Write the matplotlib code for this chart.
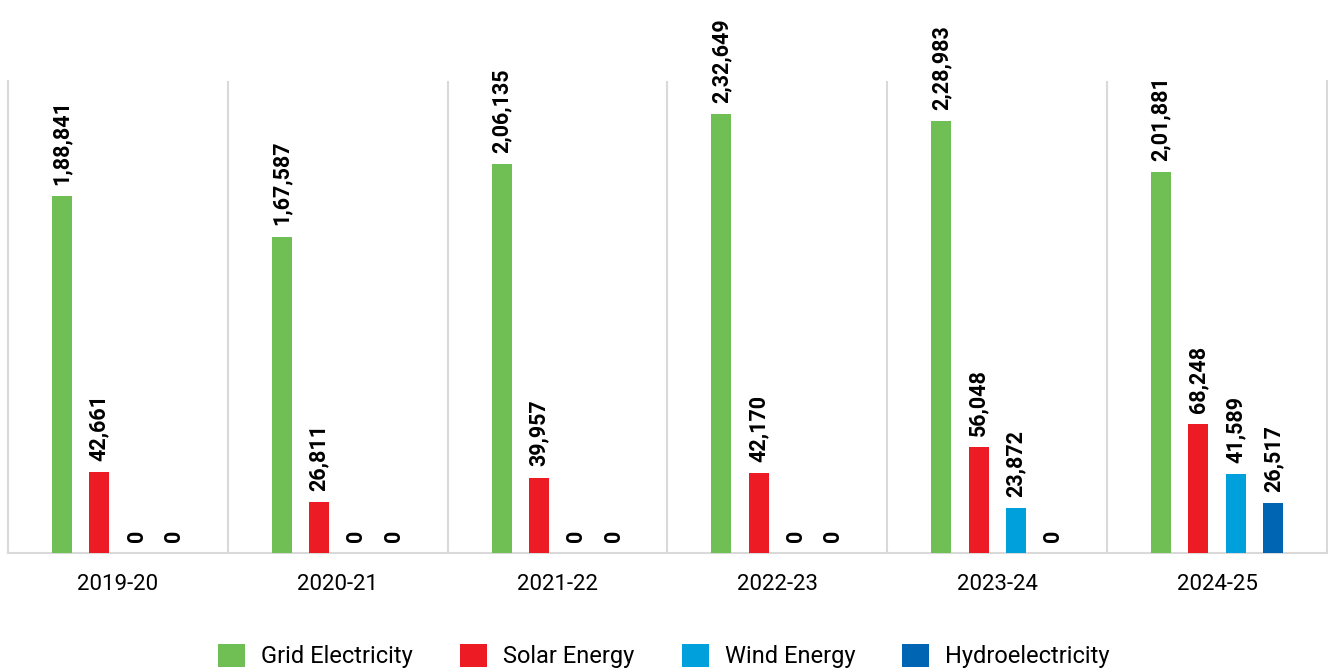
import matplotlib
matplotlib.use("Agg")
import matplotlib.pyplot as plt
import numpy as np

years = ["2019-20", "2020-21", "2021-22", "2022-23", "2023-24", "2024-25"]
series_names = ["Grid Electricity", "Solar Energy", "Wind Energy", "Hydroelectricity"]
grid = [188841, 167587, 206135, 232649, 228983, 201881]
solar = [42661, 26811, 39957, 42170, 56048, 68248]
wind = [0, 0, 0, 0, 23872, 41589]
hydro = [0, 0, 0, 0, 0, 26517]
colors = ["#70BF54", "#ED1C24", "#00A0DC", "#0066B3"]

def fmt_indian(v):
    s = str(int(v))
    if len(s) <= 3:
        return s
    last3 = s[-3:]
    rest = s[:-3]
    parts = []
    while len(rest) > 2:
        parts.insert(0, rest[-2:])
        rest = rest[:-2]
    if rest:
        parts.insert(0, rest)
    return ",".join(parts) + "," + last3

plt.rcParams['font.family'] = ['Roboto', 'DejaVu Sans']

fig = plt.figure(figsize=(13.28, 6.68), dpi=100)
ax = fig.add_axes([8/1328, (668-553)/668, 1319/1328, (553-81)/668])

x = np.arange(len(years))
width = 0.091
step = 0.17
offsets = (np.arange(4) - 1.5) * step
data = [grid, solar, wind, hydro]
for i, (vals, c, name) in enumerate(zip(data, colors, series_names)):
    bars = ax.bar(x + offsets[i], vals, width, color=c, label=name, zorder=3)
    ax.bar_label(bars, labels=[fmt_indian(v) for v in vals], rotation=90,
                 padding=8, fontsize=15.5, fontweight='bold', color='black',
                 clip_on=False)

ax.set_xlim(-0.5, len(years) - 0.5)
ax.set_ylim(0, 250000)
ax.set_xticks(x)
ax.set_xticklabels(years, fontsize=16)
ax.set_xticks(np.arange(0.5, len(years) - 0.5, 1), minor=True)
ax.tick_params(axis='x', which='both', length=0, pad=15)
ax.set_yticks([])
ax.grid(which='minor', axis='x', color='#D9D9D9', linewidth=1.5)
for s in ['left', 'bottom', 'right']:
    ax.spines[s].set_color('#D9D9D9')
    ax.spines[s].set_linewidth(1.5)
ax.spines['top'].set_visible(False)

fig.legend(loc='center', bbox_to_anchor=(0.5, (668-656)/668), ncol=4, frameon=False,
           fontsize=17, handlelength=1.14, handleheight=1.14, handletextpad=0.68,
           columnspacing=2.0)

fig.savefig("out.png", dpi=100)
